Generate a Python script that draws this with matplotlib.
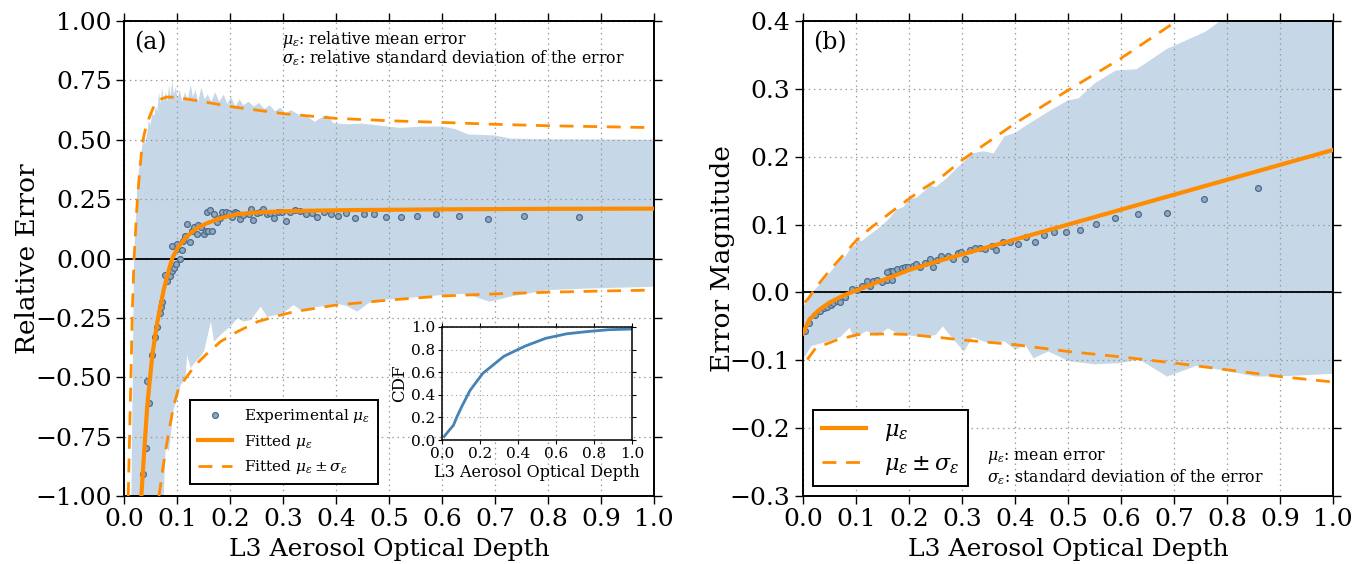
import numpy as np
import matplotlib
matplotlib.use("Agg")
import matplotlib.pyplot as plt

plt.rcParams['font.family'] = ['DejaVu Serif']
plt.rcParams['mathtext.fontset'] = 'dejavuserif'
plt.rcParams['axes.unicode_minus'] = True

ORANGE = '#ff8c00'
BAND = '#c6d7e7'
PT_FACE = '#8ea8c3'
PT_EDGE = '#4d6b89'

# ---------------- Panel (a) data ----------------
a_pts_x = [0.035, 0.041, 0.047, 0.043, 0.052, 0.058, 0.063, 0.068, 0.069, 0.072, 0.077, 0.082,
           0.086, 0.091, 0.094, 0.0975, 0.106, 0.0912, 0.1006, 0.0994, 0.109, 0.112, 0.116, 0.119,
           0.124, 0.128, 0.132, 0.137, 0.140, 0.145, 0.150, 0.154, 0.159, 0.166, 0.157, 0.162,
           0.170, 0.175, 0.181, 0.185, 0.193, 0.198, 0.203, 0.209, 0.214, 0.219, 0.225, 0.235,
           0.239, 0.244, 0.250, 0.257, 0.263, 0.269, 0.275, 0.283, 0.290, 0.298, 0.305, 0.314,
           0.323, 0.332, 0.343, 0.354, 0.365, 0.377, 0.390, 0.404, 0.419, 0.436, 0.453, 0.471,
           0.495, 0.523, 0.553, 0.589, 0.633, 0.686, 0.755, 0.858]
a_pts_y = [-0.907, -0.797, -0.610, -0.514, -0.406, -0.329, -0.287, -0.231, -0.203, -0.182, -0.070, -0.095,
           -0.072, -0.053, -0.039, -0.025, 0.0, 0.054, 0.060, 0.039, 0.036, 0.074, 0.095, 0.147,
           0.068, 0.116, 0.131, 0.103, 0.141, 0.134, 0.103, 0.116, 0.114, 0.117, 0.197, 0.204,
           0.187, 0.155, 0.172, 0.194, 0.194, 0.190, 0.176, 0.194, 0.193, 0.165, 0.183, 0.187,
           0.208, 0.162, 0.190, 0.194, 0.208, 0.186, 0.190, 0.172, 0.194, 0.197, 0.159, 0.197,
           0.204, 0.200, 0.186, 0.190, 0.173, 0.197, 0.187, 0.179, 0.193, 0.169, 0.186, 0.187,
           0.176, 0.173, 0.179, 0.186, 0.179, 0.168, 0.179, 0.176]

a_fit_x = [0.0327, 0.0377, 0.044, 0.0535, 0.063, 0.0755, 0.085, 0.091, 0.1006, 0.118, 0.137,
           0.156, 0.181, 0.212, 0.244, 0.301, 0.37, 0.433, 0.5, 0.6, 0.8, 1.0]
a_fit_y = [-1.0, -0.827, -0.617, -0.406, -0.266, -0.126, -0.045, 0.0, 0.043, 0.092, 0.127,
           0.148, 0.169, 0.186, 0.193, 0.199, 0.202, 0.204, 0.205, 0.207, 0.209, 0.210]

a_up_x = [0.008, 0.012, 0.016, 0.019, 0.025, 0.030, 0.035, 0.041, 0.047, 0.057, 0.069, 0.08,
          0.10, 0.15, 0.2, 0.3, 0.4, 0.5, 0.6, 0.7, 0.8, 0.9, 1.0]
a_up_y = [-1.0, -0.6, -0.2, 0.0, 0.24, 0.38, 0.49, 0.55, 0.59, 0.645, 0.67, 0.68,
          0.678, 0.66, 0.64, 0.61, 0.59, 0.58, 0.573, 0.565, 0.559, 0.555, 0.551]

a_lo_x = [0.066, 0.077, 0.088, 0.094, 0.103, 0.116, 0.135, 0.154, 0.182, 0.214, 0.252, 0.296,
          0.321, 0.4, 0.5, 0.6, 0.7, 0.8, 0.9, 1.0]
a_lo_y = [-1.0, -0.827, -0.687, -0.617, -0.547, -0.505, -0.448, -0.406, -0.35, -0.308, -0.266, -0.238,
          -0.224, -0.196, -0.175, -0.158, -0.149, -0.142, -0.137, -0.133]

a_band_top_x = [0.014, 0.019, 0.025, 0.030, 0.033, 0.036, 0.038, 0.040, 0.043, 0.047, 0.050, 0.053,
                0.057, 0.060, 0.063, 0.066, 0.069, 0.072, 0.075, 0.079, 0.082, 0.085, 0.088, 0.091,
                0.094, 0.098, 0.101, 0.105, 0.110, 0.115, 0.120, 0.126, 0.130, 0.135, 0.140, 0.146,
                0.152, 0.158, 0.165, 0.172, 0.180, 0.188, 0.195, 0.202, 0.210, 0.218, 0.225, 0.235,
                0.245, 0.255, 0.265, 0.275, 0.285, 0.295, 0.305, 0.315, 0.33, 0.345, 0.36, 0.37,
                0.383, 0.395, 0.42, 0.45, 0.48, 0.52, 0.56, 0.60, 0.625, 0.65, 0.70, 0.73, 0.80, 1.0]
a_band_top_y = [-1.0, 0.0, 0.30, 0.41, 0.45, 0.50, 0.55, 0.48, 0.52, 0.58, 0.56, 0.61,
                0.60, 0.64, 0.62, 0.70, 0.65, 0.72, 0.66, 0.70, 0.66, 0.73, 0.68, 0.75,
                0.69, 0.72, 0.67, 0.71, 0.66, 0.70, 0.67, 0.73, 0.68, 0.71, 0.66, 0.72,
                0.67, 0.69, 0.66, 0.70, 0.66, 0.69, 0.65, 0.68, 0.64, 0.67, 0.645, 0.66,
                0.64, 0.655, 0.63, 0.645, 0.62, 0.635, 0.61, 0.625, 0.605, 0.60, 0.575, 0.59,
                0.605, 0.57, 0.565, 0.568, 0.56, 0.55, 0.555, 0.556, 0.545, 0.522, 0.518, 0.505, 0.502, 0.50]

a_band_bot_x = [0.014, 0.074, 0.075, 0.079, 0.085, 0.091, 0.094, 0.101, 0.107, 0.116, 0.119, 0.126,
                0.135, 0.142, 0.151, 0.164, 0.170, 0.182, 0.189, 0.201, 0.214, 0.226, 0.239, 0.258,
                0.270, 0.289, 0.30, 0.32, 0.335, 0.36, 0.38, 0.40, 0.42, 0.44, 0.46, 0.48,
                0.52, 0.56, 0.60, 0.64, 0.66, 0.69, 0.73, 0.80, 0.88, 1.0]
a_band_bot_y = [-1.3, -1.3, -0.996, -0.785, -0.813, -0.687, -0.631, -0.589, -0.533, -0.504, -0.406, -0.462,
                -0.434, -0.420, -0.392, -0.266, -0.350, -0.322, -0.308, -0.287, -0.252, -0.266, -0.259, -0.203,
                -0.245, -0.238, -0.231, -0.196, -0.22, -0.205, -0.20, -0.189, -0.20, -0.224, -0.19, -0.175,
                -0.17, -0.161, -0.154, -0.149, -0.16, -0.182, -0.16, -0.133, -0.126, -0.119]

cdf_x = [0.011, 0.03, 0.06, 0.08, 0.104, 0.148, 0.215, 0.325, 0.436, 0.546, 0.657, 0.768, 0.878, 1.0]
cdf_y = [0.03, 0.07, 0.13, 0.21, 0.296, 0.44, 0.59, 0.74, 0.83, 0.90, 0.94, 0.96, 0.976, 0.982]

# ---------------- Panel (b) data ----------------
b_pts_x = [0.004, 0.012, 0.0226, 0.032, 0.040, 0.045, 0.052, 0.057, 0.064, 0.070, 0.079, 0.080,
           0.092, 0.101, 0.111, 0.120, 0.126, 0.133, 0.140, 0.149, 0.158, 0.164, 0.167, 0.158,
           0.170, 0.177, 0.186, 0.192, 0.199, 0.208, 0.214, 0.221, 0.230, 0.240, 0.246, 0.252,
           0.261, 0.274, 0.283, 0.293, 0.299, 0.306, 0.315, 0.325, 0.334, 0.343, 0.356, 0.365,
           0.378, 0.391, 0.405, 0.421, 0.438, 0.454, 0.473, 0.497, 0.523, 0.553, 0.589, 0.633,
           0.687, 0.757, 0.859]
b_pts_y = [-0.057, -0.045, -0.033, -0.028, -0.023, -0.021, -0.018, -0.016, -0.013, -0.014, -0.006, -0.006,
           0.005, 0.004, 0.009, 0.017, 0.009, 0.017, 0.019, 0.016, 0.018, 0.031, 0.019, 0.030,
           0.032, 0.034, 0.036, 0.038, 0.037, 0.039, 0.042, 0.038, 0.043, 0.049, 0.038, 0.048,
           0.054, 0.053, 0.049, 0.058, 0.059, 0.049, 0.062, 0.065, 0.066, 0.064, 0.068, 0.063,
           0.075, 0.075, 0.072, 0.081, 0.074, 0.084, 0.089, 0.089, 0.092, 0.101, 0.110, 0.116,
           0.117, 0.138, 0.154]

b_fit_x = [0.0, 0.012, 0.03, 0.05, 0.075, 0.1, 0.15, 0.2, 0.25, 0.3, 0.4, 0.5, 0.6, 0.7, 0.8, 0.9, 1.0]
b_fit_y = [-0.06, -0.040, -0.026, -0.015, -0.005, 0.003, 0.018, 0.033, 0.045, 0.056, 0.078, 0.100,
           0.122, 0.144, 0.166, 0.188, 0.210]

b_up_x = [0.003, 0.01, 0.026, 0.051, 0.076, 0.101, 0.126, 0.164, 0.2, 0.227, 0.258, 0.3, 0.4, 0.5, 0.6, 0.705, 0.75]
b_up_y = [-0.015, -0.009, 0.009, 0.033, 0.055, 0.077, 0.094, 0.117, 0.138, 0.153, 0.168, 0.195,
          0.249, 0.298, 0.345, 0.400, 0.42]

b_lo_x = [0.008, 0.024, 0.064, 0.104, 0.160, 0.2, 0.264, 0.3, 0.4, 0.5, 0.6, 0.7, 0.8, 0.9, 1.0]
b_lo_y = [-0.099, -0.082, -0.070, -0.062, -0.061, -0.062, -0.067, -0.070, -0.077, -0.087, -0.095,
          -0.104, -0.114, -0.124, -0.132]

b_band_top_x = [0.0, 0.006, 0.02, 0.039, 0.055, 0.070, 0.08, 0.09, 0.1, 0.104, 0.11, 0.126, 0.14,
                0.151, 0.164, 0.177, 0.19, 0.2, 0.215, 0.23, 0.240, 0.25, 0.271, 0.29, 0.3, 0.32,
                0.34, 0.36, 0.38, 0.4, 0.423, 0.46, 0.5, 0.52, 0.55, 0.59, 0.63, 0.687, 0.759,
                0.787, 0.85, 1.0]
b_band_top_y = [-0.02, -0.016, 0.002, 0.018, 0.033, 0.047, 0.053, 0.065, 0.070, 0.079, 0.075, 0.085, 0.093,
                0.100, 0.110, 0.122, 0.126, 0.137, 0.14, 0.15, 0.158, 0.155, 0.168, 0.183, 0.19, 0.205,
                0.208, 0.205, 0.23, 0.235, 0.247, 0.265, 0.283, 0.286, 0.308, 0.327, 0.329, 0.359, 0.384,
                0.40, 0.44, 0.50]

b_band_bot_x = [0.0, 0.016, 0.048, 0.07, 0.088, 0.096, 0.12, 0.14, 0.16, 0.184, 0.22, 0.25, 0.264,
                0.28, 0.304, 0.32, 0.35, 0.38, 0.4, 0.42, 0.435, 0.463, 0.5, 0.55, 0.6, 0.635, 0.687,
                0.743, 0.8, 0.855, 0.918, 1.0]
b_band_bot_y = [-0.099, -0.079, -0.072, -0.066, -0.052, -0.067, -0.057, -0.064, -0.053, -0.062, -0.065,
                -0.063, -0.050, -0.066, -0.087, -0.066, -0.075, -0.072, -0.084, -0.078, -0.097, -0.087,
                -0.101, -0.106, -0.104, -0.099, -0.124, -0.108, -0.116, -0.124, -0.123, -0.120]

x_ticks = [0.0, 0.1, 0.2, 0.3, 0.4, 0.5, 0.6, 0.7, 0.8, 0.9, 1.0]
a_yticks = [-1.0, -0.75, -0.5, -0.25, 0.0, 0.25, 0.5, 0.75, 1.0]
b_yticks = [-0.3, -0.2, -0.1, 0.0, 0.1, 0.2, 0.3, 0.4]
cdf_ticks = [0.0, 0.2, 0.4, 0.6, 0.8, 1.0]

TICK = 18
LABX = 18
LABY = 19
GRID_LS = (0, (1.2, 3))

fig = plt.figure(figsize=(13.53, 5.64), dpi=100)
axA = fig.add_axes([124/1353, 68/564, 530/1353, 475/564])
axB = fig.add_axes([803/1353, 68/564, 530/1353, 475/564])


def style_axes(ax):
    ax.tick_params(direction='out', top=True, right=True, labelsize=TICK, length=6,
                   width=1.0, pad=3)
    for s in ax.spines.values():
        s.set_linewidth(1.4)
    ax.grid(True, linestyle=GRID_LS, color='#9a9a9a', linewidth=0.9, zorder=2.5)


def band(ax, tx, ty, bx, by):
    px = list(tx) + list(bx)[::-1]
    py = list(ty) + list(by)[::-1]
    ax.fill(px, py, color=BAND, linewidth=0, zorder=1)

# ---- Panel (a)
band(axA, a_band_top_x, a_band_top_y, a_band_bot_x, a_band_bot_y)
axA.axhline(0, color='black', lw=1.3, zorder=2)
axA.plot(a_pts_x, a_pts_y, 'o', ms=4.2, mfc=PT_FACE, mec=PT_EDGE, mew=0.9, zorder=3,
         label=r'Experimental $\mu_\varepsilon$')
axA.plot(a_fit_x, a_fit_y, '-', color=ORANGE, lw=3, zorder=4, label=r'Fitted $\mu_\varepsilon$')
axA.plot(a_up_x, a_up_y, '--', color=ORANGE, lw=2, dashes=(5, 3.5), zorder=4,
         label=r'Fitted $\mu_\varepsilon \pm\sigma_\varepsilon$')
axA.plot(a_lo_x, a_lo_y, '--', color=ORANGE, lw=2, dashes=(5, 3.5), zorder=4)
axA.set_xlim(0, 1)
axA.set_ylim(-1, 1)
axA.set_xticks(x_ticks)
axA.set_yticks(a_yticks)
style_axes(axA)
axA.set_xlabel('L3 Aerosol Optical Depth', fontsize=LABX, labelpad=5)
axA.set_ylabel('Relative Error', fontsize=LABY, labelpad=-4)
axA.text(0.019, 0.955, '(a)', transform=axA.transAxes, fontsize=17, va='center', ha='left')
axA.text(0.298, 0.962, r'$\mu_\varepsilon$: relative mean error', transform=axA.transAxes,
         fontsize=11.3, va='center', ha='left')
axA.text(0.298, 0.922, r'$\sigma_\varepsilon$: relative standard deviation of the error',
         transform=axA.transAxes, fontsize=11.3, va='center', ha='left')
legA = axA.legend(loc='lower left', bbox_to_anchor=(0.125, 0.025), borderaxespad=0,
                  fontsize=11, fancybox=False, framealpha=1, edgecolor='black',
                  handlelength=2.2, borderpad=0.5, labelspacing=0.5, numpoints=1)
legA.get_frame().set_linewidth(1.4)
legA.set_zorder(10)

# ---- inset
axI = fig.add_axes([442/1353, (564-440)/564, 190/1353, 113/564])
axI.plot(cdf_x, cdf_y, color='#4682b4', lw=2)
axI.set_xlim(0, 1)
axI.set_ylim(0, 1)
axI.set_xticks(cdf_ticks)
axI.set_yticks(cdf_ticks)
axI.tick_params(direction='out', top=True, right=True, labelsize=11, length=3, pad=2)
for s in axI.spines.values():
    s.set_linewidth(1.1)
axI.grid(True, linestyle=(0, (1, 3)), color='#9a9a9a', linewidth=0.8)
axI.set_xlabel('L3 Aerosol Optical Depth', fontsize=11.5, labelpad=2)
axI.set_ylabel('CDF', fontsize=12, labelpad=2)

# ---- Panel (b)
band(axB, b_band_top_x, b_band_top_y, b_band_bot_x, b_band_bot_y)
axB.axhline(0, color='black', lw=1.3, zorder=2)
axB.plot(b_pts_x, b_pts_y, 'o', ms=4.2, mfc=PT_FACE, mec=PT_EDGE, mew=0.9, zorder=3)
axB.plot(b_fit_x, b_fit_y, '-', color=ORANGE, lw=3, zorder=4, label=r'$\mu_\varepsilon$')
axB.plot(b_up_x, b_up_y, '--', color=ORANGE, lw=2, dashes=(5, 3.5), zorder=4,
         label=r'$\mu_\varepsilon \pm\sigma_\varepsilon$')
axB.plot(b_lo_x, b_lo_y, '--', color=ORANGE, lw=2, dashes=(5, 3.5), zorder=4)
axB.set_xlim(0, 1)
axB.set_ylim(-0.3, 0.4)
axB.set_xticks(x_ticks)
axB.set_yticks(b_yticks)
style_axes(axB)
axB.set_xlabel('L3 Aerosol Optical Depth', fontsize=LABX, labelpad=5)
axB.set_ylabel('Error Magnitude', fontsize=LABY, labelpad=-4)
axB.text(0.019, 0.955, '(b)', transform=axB.transAxes, fontsize=17, va='center', ha='left')
axB.text(0.347, 0.080, r'$\mu_\varepsilon$: mean error', transform=axB.transAxes,
         fontsize=11.3, va='center', ha='left')
axB.text(0.347, 0.040, r'$\sigma_\varepsilon$: standard deviation of the error',
         transform=axB.transAxes, fontsize=11.3, va='center', ha='left')
legB = axB.legend(loc='lower left', bbox_to_anchor=(0.019, 0.021), borderaxespad=0,
                  fontsize=16, fancybox=False, framealpha=1, edgecolor='black',
                  handlelength=2.0, borderpad=0.4, labelspacing=0.45)
legB.get_frame().set_linewidth(1.4)
legB.set_zorder(10)

fig.savefig('out.png', dpi=100)
